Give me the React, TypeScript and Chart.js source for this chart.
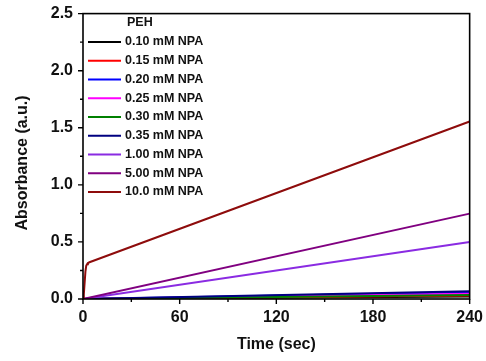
import React, { useEffect, useRef } from "react";
import { Chart, registerables } from "chart.js";

Chart.register(...registerables);

const legendTitle = "PEH";
const seriesLabels = [
  "0.10 mM NPA",
  "0.15 mM NPA",
  "0.20 mM NPA",
  "0.25 mM NPA",
  "0.30 mM NPA",
  "0.35 mM NPA",
  "1.00 mM NPA",
  "5.00 mM NPA",
  "10.0 mM NPA",
];
const seriesColors = [
  "#000000",
  "#ff0000",
  "#0000ff",
  "#ff00ff",
  "#008000",
  "#000080",
  "#8a2be2",
  "#800080",
  "#8e0c0c",
];
const timeLinear = [0, 240];
const time10 = [0, 0.5, 1, 1.5, 2, 2.5, 3, 4, 240];

const abs010 = [0, 0.022];
const abs015 = [0, 0.03];
const abs020 = [0, 0.06];
const abs025 = [0, 0.045];
const abs030 = [0, 0.035];
const abs035 = [0, 0.068];
const abs100 = [0, 0.5];
const abs500 = [0, 0.748];
const abs1000 = [0, 0.04, 0.14, 0.24, 0.29, 0.305, 0.315, 0.322, 1.555];

const seriesTimes = [
  timeLinear,
  timeLinear,
  timeLinear,
  timeLinear,
  timeLinear,
  timeLinear,
  timeLinear,
  timeLinear,
  time10,
];
const seriesValues = [abs010, abs015, abs020, abs025, abs030, abs035, abs100, abs500, abs1000];

const xMajorTicks = [0, 60, 120, 180, 240];
const xMinorTicks = [30, 90, 150, 210];
const yMajorTicks = [0, 0.5, 1.0, 1.5, 2.0, 2.5];
const yMinorTicks = [0.25, 0.75, 1.25, 1.75, 2.25];

const FONT = "'Liberation Sans', Arial, sans-serif";

const framePlugin = {
  id: "framePlugin",
  afterDraw(chart: any) {
    const { ctx, chartArea } = chart;
    const xs = chart.scales.x;
    const ys = chart.scales.y;
    ctx.save();
    ctx.strokeStyle = "#000";
    ctx.lineWidth = 1.6;
    ctx.strokeRect(chartArea.left, chartArea.top, chartArea.right - chartArea.left, chartArea.bottom - chartArea.top);
    ctx.lineWidth = 1.4;
    ctx.beginPath();
    xMajorTicks.forEach((v) => {
      const px = xs.getPixelForValue(v);
      ctx.moveTo(px, chartArea.bottom);
      ctx.lineTo(px, chartArea.bottom + 5);
    });
    xMinorTicks.forEach((v) => {
      const px = xs.getPixelForValue(v);
      ctx.moveTo(px, chartArea.bottom);
      ctx.lineTo(px, chartArea.bottom + 3);
    });
    yMajorTicks.forEach((v) => {
      const py = ys.getPixelForValue(v);
      ctx.moveTo(chartArea.left, py);
      ctx.lineTo(chartArea.left - 5, py);
    });
    yMinorTicks.forEach((v) => {
      const py = ys.getPixelForValue(v);
      ctx.moveTo(chartArea.left, py);
      ctx.lineTo(chartArea.left - 3, py);
    });
    ctx.stroke();

    // legend
    const lx = chartArea.left + 5;
    const ty = chartArea.top + 9;
    ctx.fillStyle = "#111";
    ctx.font = `bold 12.5px ${FONT}`;
    ctx.textBaseline = "middle";
    ctx.textAlign = "left";
    ctx.fillText(legendTitle, lx + 39, ty);
    seriesLabels.forEach((lab, i) => {
      const y = ty + 19.4 + i * 18.75;
      ctx.strokeStyle = seriesColors[i];
      ctx.lineWidth = 2;
      ctx.beginPath();
      ctx.moveTo(lx, y);
      ctx.lineTo(lx + 33, y);
      ctx.stroke();
      ctx.fillStyle = "#111";
      ctx.fillText(lab, lx + 37, y);
    });
    ctx.restore();
  },
};

export default function App() {
  const ref = useRef<HTMLCanvasElement | null>(null);
  useEffect(() => {
    if (!ref.current) return;
    const n = seriesLabels.length;
    const chart = new Chart(ref.current, {
      type: "line",
      data: {
        datasets: seriesLabels.map((lab, i) => ({
          label: lab,
          data: seriesTimes[i].map((t, j) => ({ x: t, y: seriesValues[i][j] })),
          borderColor: seriesColors[i],
          backgroundColor: seriesColors[i],
          borderWidth: 2,
          pointRadius: 0,
          tension: 0,
          fill: false,
          order: n - i,
        })),
      },
      options: {
        animation: false,
        responsive: false,
        maintainAspectRatio: false,
        layout: { padding: { left: 0, top: 10, right: 16, bottom: 0 } },
        plugins: { legend: { display: false }, tooltip: { enabled: false } },
        scales: {
          x: {
            type: "linear",
            min: 0,
            max: 240,
            afterFit: (s: any) => {
              s.height = 62;
            },
            afterBuildTicks: (s: any) => {
              s.ticks = xMajorTicks.map((v) => ({ value: v }));
            },
            ticks: {
              color: "#111",
              font: { family: FONT, size: 16, weight: "bold" },
              padding: 3,
              maxRotation: 0,
              callback: (v: any) => String(v),
            },
            grid: { display: false, drawTicks: true, tickLength: 6 },
            border: { display: false },
            title: {
              display: true,
              text: "Time (sec)",
              color: "#111",
              font: { family: FONT, size: 16, weight: "bold" },
              padding: { top: 0, bottom: 7 },
            },
          },
          y: {
            type: "linear",
            min: 0,
            max: 2.5,
            afterFit: (s: any) => {
              s.width = 83;
            },
            afterBuildTicks: (s: any) => {
              s.ticks = yMajorTicks.map((v) => ({ value: v }));
            },
            ticks: {
              color: "#111",
              font: { family: FONT, size: 16, weight: "bold" },
              padding: 4,
              callback: (v: any) => Number(v).toFixed(1),
            },
            grid: { display: false, drawTicks: true, tickLength: 6 },
            border: { display: false },
            title: {
              display: true,
              text: "Absorbance (a.u.)\u00a0\u00a0\u00a0",
              color: "#111",
              font: { family: FONT, size: 16, weight: "bold" },
              padding: { top: 13, bottom: 0 },
            },
          },
        },
      },
      plugins: [framePlugin],
    });
    return () => chart.destroy();
  }, []);
  return (
    <div style={{ position: "fixed", left: 0, top: 0, width: 486, height: 361, background: "#fff" }}>
      <canvas ref={ref} width={486} height={361} style={{ display: "block" }} />
    </div>
  );
}
